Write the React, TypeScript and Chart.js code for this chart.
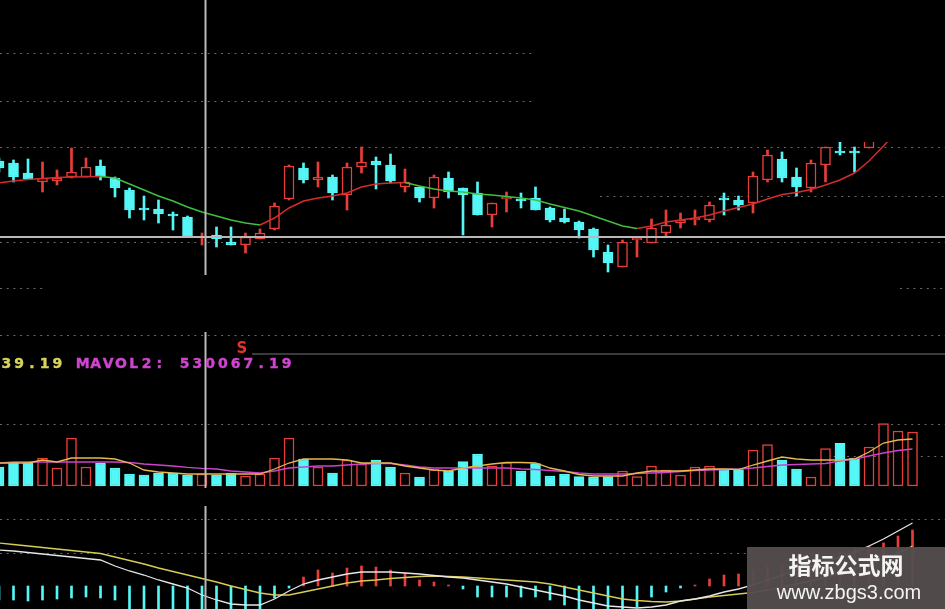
import React, { useEffect, useRef } from 'react';
import { Chart, registerables } from 'chart.js';

Chart.register(...registerables);

const W = 945;
const H = 609;

// ---- price (OHLC) ----
const open = [
  8.39, 8.37, 8.27, 8.18, 8.19, 8.23, 8.23, 8.34, 8.22, 8.10,
  7.92, 7.91, 7.86, 7.83, 7.62, 7.65, 7.58, 7.55, 7.61, 7.71,
  8.01, 8.32, 8.20, 8.23, 8.05, 8.33, 8.39, 8.35, 8.13, 8.13,
  8.02, 8.22, 8.12, 8.07, 7.85, 8.01, 8.01, 8.02, 7.92, 7.82,
  7.78, 7.71, 7.48, 7.33, 7.60, 7.57, 7.67, 7.77, 7.80, 7.80,
  8.02, 8.00, 7.97, 8.20, 8.41, 8.23, 8.12, 8.35, 8.48, 8.48,
  8.52, 8.72, 8.98, 9.12,
];
const high = [
  8.42, 8.40, 8.41, 8.38, 8.30, 8.52, 8.42, 8.40, 8.23, 8.12,
  8.04, 8.00, 7.88, 7.84, 7.67, 7.73, 7.73, 7.67, 7.71, 7.97,
  8.35, 8.37, 8.38, 8.25, 8.37, 8.53, 8.43, 8.46, 8.31, 8.13,
  8.25, 8.28, 8.12, 8.18, 7.97, 8.08, 8.07, 8.13, 7.93, 7.91,
  7.79, 7.72, 7.55, 7.60, 7.63, 7.81, 7.90, 7.87, 7.90, 7.98,
  8.07, 8.04, 8.28, 8.50, 8.48, 8.32, 8.40, 8.53, 8.58, 8.53,
  8.82, 9.05, 9.22, 9.38,
];
const low = [
  8.28, 8.18, 8.21, 8.08, 8.15, 8.22, 8.23, 8.20, 8.03, 7.82,
  7.80, 7.77, 7.70, 7.63, 7.55, 7.53, 7.55, 7.47, 7.61, 7.70,
  8.00, 8.17, 8.13, 8.00, 7.90, 8.27, 8.11, 8.17, 8.08, 7.98,
  7.92, 8.02, 7.65, 7.85, 7.73, 7.88, 7.92, 7.90, 7.78, 7.77,
  7.62, 7.43, 7.28, 7.33, 7.43, 7.57, 7.63, 7.72, 7.75, 7.78,
  7.85, 7.90, 7.87, 8.18, 8.18, 8.04, 8.08, 8.18, 8.45, 8.28,
  8.52, 8.68, 8.90, 9.05,
];
const close = [
  8.32, 8.23, 8.21, 8.22, 8.22, 8.28, 8.33, 8.23, 8.12, 7.90,
  7.90, 7.86, 7.84, 7.63, 7.64, 7.61, 7.55, 7.63, 7.67, 7.94,
  8.34, 8.20, 8.23, 8.07, 8.33, 8.38, 8.35, 8.19, 8.18, 8.02,
  8.23, 8.08, 8.05, 7.85, 7.97, 8.03, 7.99, 7.90, 7.80, 7.78,
  7.70, 7.50, 7.37, 7.58, 7.62, 7.72, 7.75, 7.80, 7.82, 7.95,
  8.00, 7.95, 8.24, 8.45, 8.22, 8.13, 8.37, 8.53, 8.47, 8.47,
  8.75, 9.00, 9.15, 9.30,
];
const ma = [
  8.17, 8.19, 8.205, 8.215, 8.225, 8.23, 8.232, 8.235, 8.22, 8.16,
  8.10, 8.04, 7.99, 7.93, 7.88, 7.84, 7.80, 7.77, 7.75, 7.82,
  7.92, 7.99, 8.02, 8.04, 8.07, 8.13, 8.16, 8.17, 8.175, 8.14,
  8.11, 8.09, 8.08, 8.06, 8.05, 8.035, 8.02, 8.00, 7.96, 7.925,
  7.89, 7.84, 7.79, 7.74, 7.715, 7.74, 7.78, 7.80, 7.82, 7.85,
  7.89, 7.925, 7.96, 8.01, 8.055, 8.075, 8.105, 8.15, 8.20, 8.27,
  8.39, 8.54, 8.70, 8.86,
];

// ---- volume (thousand) ----
const volume = [
  570, 720, 720, 840, 540, 1440, 570, 690, 540, 360,
  330, 390, 390, 330, 360, 330, 390, 300, 360, 840,
  1440, 810, 570, 390, 780, 660, 780, 570, 390, 270,
  495, 450, 735, 960, 600, 705, 450, 672, 300, 360,
  285, 270, 285, 450, 285, 600, 480, 330, 570, 600,
  510, 495, 1080, 1245, 780, 510, 270, 1119, 1278, 840,
  1170, 1872, 1650, 1620,
];
const mavol1 = [
  690, 690, 690, 780, 720, 840, 840, 840, 810, 690,
  480, 420, 390, 360, 360, 360, 360, 360, 360, 510,
  690, 810, 810, 810, 780, 690, 690, 690, 600, 540,
  480, 450, 540, 600, 660, 705, 705, 690, 540, 450,
  345, 300, 300, 300, 390, 450, 450, 450, 480, 510,
  510, 495, 630, 750, 870, 810, 780, 780, 780, 810,
  1020, 1290, 1380, 1410,
];
const mavol2 = [
  690, 720, 720, 720, 720, 720, 720, 720, 720, 705,
  660, 630, 600, 560, 530, 510, 450, 420, 390, 450,
  540, 570, 600, 600, 630, 660, 675, 675, 630, 570,
  540, 540, 540, 540, 540, 540, 510, 495, 465, 435,
  390, 360, 360, 360, 375, 390, 405, 435, 465, 480,
  495, 510, 540, 585, 630, 645, 660, 675, 750, 810,
  900, 990, 1065, 1110,
];

// ---- MACD ----
const dif = [
  0.036, 0.035, 0.0335, 0.032, 0.0305, 0.029, 0.0275, 0.026, 0.020, 0.015,
  0.011, 0.006, 0.002, -0.002, -0.009, -0.014, -0.018, -0.019, -0.019, -0.013,
  -0.005, 0.002, 0.006, 0.009, 0.012, 0.014, 0.014, 0.014, 0.013, 0.012,
  0.0105, 0.009, 0.008, 0.006, 0.004, 0.002, -0.001, -0.004, -0.007, -0.010,
  -0.014, -0.017, -0.020, -0.021, -0.022, -0.021, -0.019, -0.015, -0.013, -0.010,
  -0.006, -0.003, 0.001, 0.006, 0.011, 0.016, 0.020, 0.024, 0.029, 0.034,
  0.040, 0.047, 0.055, 0.063,
];
const dea = [
  0.043, 0.0415, 0.040, 0.0385, 0.037, 0.0355, 0.034, 0.0325, 0.029, 0.0255,
  0.022, 0.018, 0.0145, 0.011, 0.0075, 0.004, 0.0, -0.0035, -0.007, -0.009,
  -0.009, -0.006, -0.003, 0.0, 0.003, 0.005, 0.006, 0.0075, 0.0085, 0.0095,
  0.010, 0.0095, 0.009, 0.008, 0.007, 0.006, 0.005, 0.004, 0.002, -0.001,
  -0.004, -0.007, -0.010, -0.013, -0.0145, -0.0155, -0.016, -0.015, -0.013, -0.011,
  -0.0095, -0.008, -0.0065, -0.004, -0.001, 0.002, 0.005, 0.009, 0.013, 0.017,
  0.022, 0.027, 0.033, 0.040,
];
const macd = [
  -0.014, -0.014, -0.015, -0.014, -0.013, -0.012, -0.011, -0.012, -0.014, -0.024,
  -0.026, -0.027, -0.028, -0.028, -0.030, -0.030, -0.032, -0.032, -0.026, -0.012,
  -0.002, 0.009, 0.016, 0.013, 0.018, 0.020, 0.019, 0.016, 0.013, 0.006,
  0.004, 0.001, -0.003, -0.011, -0.011, -0.011, -0.011, -0.011, -0.014, -0.019,
  -0.024, -0.028, -0.030, -0.028, -0.021, -0.011, -0.006, -0.002, 0.001, 0.007,
  0.011, 0.012, 0.016, 0.020, 0.022, 0.022, 0.025, 0.030, 0.034, 0.038,
  0.040, 0.043, 0.050, 0.056,
];

// ---- texts / levels ----
const volHeaderLeft = '39.19';
const volHeaderRight = 'MAVOL2: 530067.19';
const signalText = 'S';
const signalIndex = 16.75;
const crossIndex = 14.2;
const crossPrice = 7.633;
const watermarkTitle = '指标公式网';
const watermarkUrl = 'www.zbgs3.com';

const CYAN = '#54f6f6';
const RED = '#e83e3a';
const MA_UP = '#d42c2c';
const MA_DOWN = '#3fbf3f';

const decoPlugin = {
  id: 'deco',
  beforeDatasetsDraw(chart: any) {
    const { ctx, scales } = chart;
    ctx.save();
    ctx.fillStyle = '#000';
    ctx.fillRect(0, 0, chart.width, chart.height);
    ctx.strokeStyle = '#676767';
    ctx.lineWidth = 1.2;
    ctx.setLineDash([2, 4.7]);
    const lines: [string, number, number, number][] = [
      ['yP', 9.47, 0, W],
      ['yP', 8.99, 0, W],
      ['yP', 8.53, 0, W],
      ['yP', 8.04, 600, W],
      ['yP', 7.58, 0, W],
      ['yP', 7.12, 0, 45],
      ['yP', 7.12, 900, W],
      ['yP', 6.65, 0, W],
      ['yV', 1860, 0, W],
      ['yV', 900, 827, W],
      ['yM', 0.067, 0, W],
      ['yM', 0.033, 0, W],
    ];
    for (const [id, v, x0, x1] of lines) {
      const y = Math.round(scales[id].getPixelForValue(v)) + 0.5;
      ctx.beginPath();
      ctx.moveTo(x0, y);
      ctx.lineTo(x1, y);
      ctx.stroke();
    }
    ctx.restore();
  },
  afterDatasetsDraw(chart: any) {
    const { ctx, scales } = chart;
    ctx.save();
    // cover of the upper right area
    ctx.fillStyle = '#000';
    ctx.fillRect(535, 0, W - 535, 142);

    // crosshair
    ctx.strokeStyle = '#b9b9b9';
    ctx.lineWidth = 2;
    const cy = Math.round(scales.yP.getPixelForValue(crossPrice));
    ctx.beginPath();
    ctx.moveTo(0, cy);
    ctx.lineTo(W, cy);
    ctx.stroke();
    const cx = Math.round(scales.x.getPixelForValue(crossIndex)) + 0.5;
    for (const [a, b] of [[0, 275], [332, 488], [506, H]]) {
      ctx.beginPath();
      ctx.moveTo(cx, a);
      ctx.lineTo(cx, b);
      ctx.stroke();
    }

    // separator above volume panel
    ctx.strokeStyle = '#3a3a3a';
    ctx.lineWidth = 2;
    ctx.beginPath();
    ctx.moveTo(252, 354);
    ctx.lineTo(W, 354);
    ctx.stroke();

    // header text (fixed cells)
    ctx.font = 'bold 14px "DejaVu Sans", "Liberation Sans", Arial, sans-serif';
    ctx.textAlign = 'center';
    ctx.textBaseline = 'alphabetic';
    const cell = 12.74;
    const drawCells = (text: string, startCell: number, color: string) => {
      ctx.fillStyle = color;
      ctx.strokeStyle = color;
      ctx.lineWidth = 0.4;
      [...text].forEach((ch, k) => {
        const px = (startCell + k) * cell + cell / 2;
        ctx.fillText(ch, px, 367.5);
        ctx.strokeText(ch, px, 367.5);
      });
    };
    drawCells(volHeaderLeft, 0, '#d8d45a');
    drawCells(volHeaderRight, volHeaderLeft.length + 1, '#cf45cf');

    // signal marker
    ctx.fillStyle = '#e2332e';
    ctx.font = 'bold 15px "DejaVu Sans", Arial, sans-serif';
    ctx.fillText(signalText, scales.x.getPixelForValue(signalIndex), 353);

    // watermark
    ctx.fillStyle = 'rgba(84,77,77,0.96)';
    ctx.fillRect(747, 547, W - 747, H - 547);
    ctx.fillStyle = '#f4f4f4';
    ctx.textBaseline = 'middle';
    ctx.font = 'bold 23px "Noto Sans CJK SC", sans-serif';
    ctx.fillText(watermarkTitle, 846, 565);
    ctx.font = '20px "Liberation Sans", Arial, sans-serif';
    ctx.fillText(watermarkUrl, 849, 593);
    ctx.restore();
  },
};

export default function App() {
  const ref = useRef<HTMLCanvasElement>(null);
  useEffect(() => {
    const canvas = ref.current;
    if (!canvas) return;
    const idx = open.map((_, i) => i);
    const up = idx.map((i) => close[i] >= open[i]);
    const chart = new Chart(canvas, {
      type: 'bar',
      data: {
        datasets: [
          {
            type: 'line',
            label: 'MA',
            yAxisID: 'yP',
            data: idx.map((i) => ({ x: i, y: ma[i] })),
            borderColor: MA_UP,
            borderWidth: 1.5,
            pointRadius: 0,
            fill: false,
            tension: 0,
            segment: {
              borderColor: (c: any) => (c.p1.parsed.y >= c.p0.parsed.y ? MA_UP : MA_DOWN),
            },
            order: 0,
          } as any,
          {
            type: 'line',
            label: 'DIF',
            yAxisID: 'yM',
            data: idx.map((i) => ({ x: i, y: dif[i] })),
            borderColor: '#e6e6e6',
            borderWidth: 1.3,
            pointRadius: 0,
            fill: false,
            order: 0,
          } as any,
          {
            type: 'line',
            label: 'DEA',
            yAxisID: 'yM',
            data: idx.map((i) => ({ x: i, y: dea[i] })),
            borderColor: '#d6cc56',
            borderWidth: 1.3,
            pointRadius: 0,
            fill: false,
            order: 0,
          } as any,
          {
            type: 'line',
            label: 'MAVOL1',
            yAxisID: 'yV',
            data: idx.map((i) => ({ x: i, y: mavol1[i] })),
            borderColor: '#e6b84e',
            borderWidth: 1.3,
            pointRadius: 0,
            fill: false,
            order: 0,
          } as any,
          {
            type: 'line',
            label: 'MAVOL2',
            yAxisID: 'yV',
            data: idx.map((i) => ({ x: i, y: mavol2[i] })),
            borderColor: '#cc44cc',
            borderWidth: 1.3,
            pointRadius: 0,
            fill: false,
            order: 0,
          } as any,
          {
            type: 'bar',
            label: 'body',
            yAxisID: 'yP',
            data: idx.map((i) => ({ x: i, y: [open[i], close[i]] })),
            backgroundColor: idx.map((i) => (up[i] ? '#000000' : CYAN)),
            borderColor: idx.map((i) => (up[i] ? RED : CYAN)),
            borderWidth: 1.5,
            borderSkipped: false,
            barThickness: 10,
            grouped: false,
            minBarLength: 2,
            order: 1,
          } as any,
          {
            type: 'bar',
            label: 'wick',
            yAxisID: 'yP',
            data: idx.map((i) => ({ x: i, y: [low[i], high[i]] })),
            backgroundColor: idx.map((i) => (up[i] ? RED : CYAN)),
            borderWidth: 0,
            barThickness: 2,
            grouped: false,
            order: 2,
          } as any,
          {
            type: 'bar',
            label: 'VOL',
            yAxisID: 'yV',
            data: idx.map((i) => ({ x: i, y: volume[i] })),
            backgroundColor: idx.map((i) => (up[i] ? '#000000' : CYAN)),
            borderColor: idx.map((i) => (up[i] ? RED : CYAN)),
            borderWidth: 1.5,
            borderSkipped: false,
            barThickness: 10,
            grouped: false,
            order: 3,
          } as any,
          {
            type: 'bar',
            label: 'MACD',
            yAxisID: 'yM',
            data: idx.map((i) => ({ x: i, y: macd[i] })),
            backgroundColor: idx.map((i) => (macd[i] >= 0 ? RED : CYAN)),
            borderWidth: 0,
            barThickness: 2,
            grouped: false,
            order: 3,
          } as any,
        ],
      },
      options: {
        animation: false,
        responsive: false,
        events: [],
        layout: { padding: 0 },
        plugins: { legend: { display: false }, tooltip: { enabled: false } },
        scales: {
          x: { type: 'linear', min: 0.069, max: 65.241, display: false, offset: false },
          yP: { type: 'linear', min: 3.91, max: 10.0, display: false },
          yV: { type: 'linear', min: -3690, max: 14580, display: false },
          yM: { type: 'linear', min: -0.023, max: 0.586, display: false },
        },
      } as any,
      plugins: [decoPlugin],
    });
    return () => chart.destroy();
  }, []);

  return (
    <div style={{ position: 'fixed', left: 0, top: 0, width: W, height: H, background: '#000' }}>
      <canvas ref={ref} width={W} height={H} style={{ display: 'block', width: W, height: H }} />
    </div>
  );
}
